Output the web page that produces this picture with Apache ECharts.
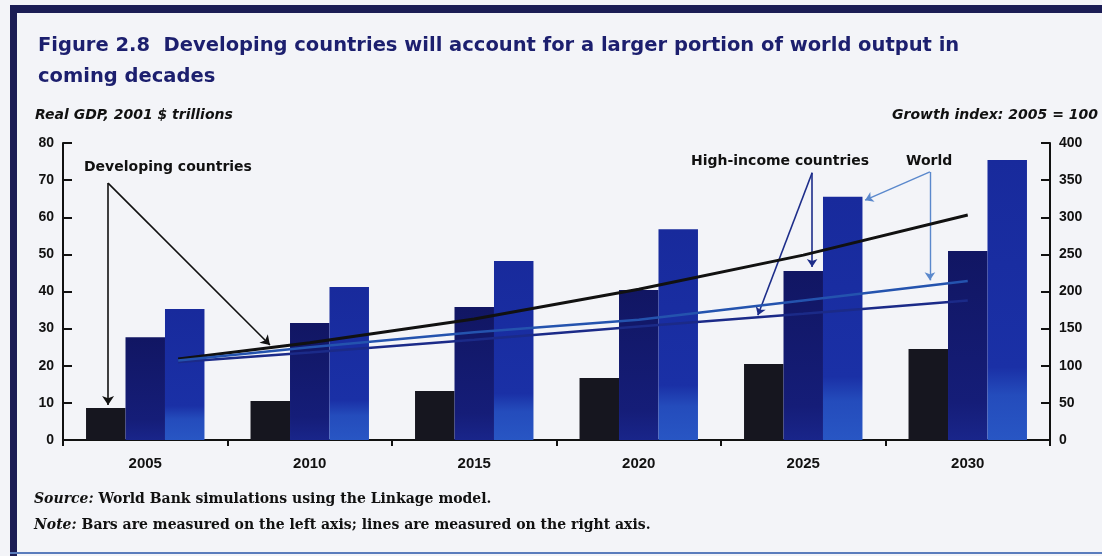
<!DOCTYPE html>
<html>
<head>
<meta charset="utf-8">
<title>Figure 2.8</title>
<script src="https://cdn.jsdelivr.net/npm/echarts@6/dist/echarts.min.js"></script>
<style>
  html, body { margin: 0; padding: 0; background: #f3f4f8; }
  #chart { width: 1102px; height: 556px; }
</style>
</head>
<body>
<div id="chart"></div>
<script>
// bars (left axis, 2001 $ trillions)
var years = ["2005", "2010", "2015", "2020", "2025", "2030"];
var developingGdp = [8.6, 10.5, 13.2, 16.7, 20.5, 24.5];
var highIncomeGdp = [27.7, 31.5, 35.8, 40.4, 45.5, 50.9];
var worldGdp = [35.3, 41.2, 48.2, 56.8, 65.5, 75.4];

// lines (right axis, growth index 2005 = 100)
var lineYears = [2006, 2010, 2015, 2020, 2025, 2030];
var developingIndex = [109, 131, 163, 203, 249, 303];
var highIncomeIndex = [105, 118, 135, 153, 170, 188];
var worldIndex = [107, 125, 145, 162, 188, 214];

var leftTicks = { min: 0, max: 80, interval: 10 };
var rightTicks = { min: 0, max: 400, interval: 50 };

var dom = document.getElementById("chart");
var myChart = echarts.init(dom, null, { renderer: "canvas" });

var wideBold = "bold 14px 'DejaVu Sans', 'Liberation Sans', sans-serif";
var captionFont = "italic bold 14px 'DejaVu Sans', 'Liberation Sans', sans-serif";
var noteFont = "bold 14px 'DejaVu Serif', 'Liberation Serif', serif";

function pairs(xs, ys) {
  return xs.map(function (x, i) { return [x, ys[i]]; });
}

function arrow(from, to) {
  return [{ coord: from }, { coord: to }];
}

var axisLabelStyle = {
  color: "#111",
  fontFamily: "'Liberation Sans', Arial, sans-serif",
  fontWeight: "bold",
  fontSize: 14,
  margin: 9
};

var option = {
  backgroundColor: "#f3f4f8",
  animation: false,
  title: {
    text: "Figure 2.8  Developing countries will account for a larger portion of world output in\ncoming decades",
    left: 33,
    top: 25,
    textStyle: {
      color: "#1c1f6e",
      fontFamily: "'DejaVu Sans', 'Liberation Sans', sans-serif",
      fontWeight: "bold",
      fontSize: 19.5,
      lineHeight: 31
    }
  },
  grid: { left: 63, right: 52, top: 143, bottom: 116 },
  xAxis: [
    {
      type: "category",
      data: years,
      axisLine: { lineStyle: { color: "#111", width: 2 } },
      axisTick: { show: true, alignWithLabel: false, length: 6, lineStyle: { color: "#111", width: 2 } },
      axisLabel: {
        color: "#111",
        fontFamily: "'Liberation Sans', Arial, sans-serif",
        fontWeight: "bold",
        fontSize: 15,
        margin: 16
      }
    },
    {
      type: "value",
      min: 2002.5,
      max: 2032.5,
      show: false
    }
  ],
  yAxis: [
    {
      type: "value",
      position: "left",
      min: leftTicks.min,
      max: leftTicks.max,
      interval: leftTicks.interval,
      splitLine: { show: false },
      axisLine: { show: true, lineStyle: { color: "#111", width: 2 } },
      axisTick: { show: true, inside: true, length: 9, lineStyle: { color: "#111", width: 2 } },
      axisLabel: axisLabelStyle
    },
    {
      type: "value",
      position: "right",
      min: rightTicks.min,
      max: rightTicks.max,
      interval: rightTicks.interval,
      splitLine: { show: false },
      axisLine: { show: true, lineStyle: { color: "#111", width: 2 } },
      axisTick: { show: true, inside: true, length: 9, lineStyle: { color: "#111", width: 2 } },
      axisLabel: axisLabelStyle
    }
  ],
  series: [
    {
      name: "Developing countries",
      type: "bar",
      data: developingGdp,
      barGap: "0%",
      barCategoryGap: "28%",
      itemStyle: { color: "#16161f" }
    },
    {
      name: "High-income countries",
      type: "bar",
      data: highIncomeGdp,
      itemStyle: {
        color: new echarts.graphic.LinearGradient(0, 0, 0, 1, [
          { offset: 0, color: "#111663" },
          { offset: 0.8, color: "#151d78" },
          { offset: 1, color: "#19258a" }
        ])
      }
    },
    {
      name: "World",
      type: "bar",
      data: worldGdp,
      itemStyle: {
        color: new echarts.graphic.LinearGradient(0, 0, 0, 1, [
          { offset: 0, color: "#182a9c" },
          { offset: 0.74, color: "#1a30a6" },
          { offset: 0.84, color: "#244cbc" },
          { offset: 1, color: "#2856c4" }
        ])
      }
    },
    {
      name: "Developing index",
      type: "line",
      xAxisIndex: 1,
      yAxisIndex: 1,
      data: pairs(lineYears, developingIndex),
      symbol: "none",
      lineStyle: { color: "#111", width: 3 },
      z: 5,
      markLine: {
        silent: true,
        symbol: ["none", "arrow"],
        symbolSize: 9,
        label: { show: false },
        lineStyle: { color: "#111", width: 1.6, type: "solid" },
        data: [
          arrow([2003.87, 346], [2003.87, 47]),
          arrow([2003.87, 346], [2008.79, 128])
        ]
      }
    },
    {
      name: "High-income index",
      type: "line",
      xAxisIndex: 1,
      yAxisIndex: 1,
      data: pairs(lineYears, highIncomeIndex),
      symbol: "none",
      lineStyle: { color: "#1b2a88", width: 2.5 },
      z: 5,
      markLine: {
        silent: true,
        symbol: ["none", "arrow"],
        symbolSize: 8,
        label: { show: false },
        lineStyle: { color: "#1d2d8a", width: 1.6, type: "solid" },
        data: [
          arrow([2025.27, 360], [2025.27, 233]),
          arrow([2025.27, 360], [2023.62, 168])
        ]
      }
    },
    {
      name: "World index",
      type: "line",
      xAxisIndex: 1,
      yAxisIndex: 1,
      data: pairs(lineYears, worldIndex),
      symbol: "none",
      lineStyle: { color: "#2453ae", width: 2.5 },
      z: 5,
      markLine: {
        silent: true,
        symbol: ["none", "arrow"],
        symbolSize: 8,
        label: { show: false },
        lineStyle: { color: "#5a88cc", width: 1.4, type: "solid" },
        data: [
          arrow([2028.85, 361], [2026.88, 323]),
          arrow([2028.85, 361], [2028.85, 215])
        ]
      }
    }
  ],
  graphic: [
    // frame
    { type: "rect", left: 10, top: 5, shape: { width: 1092, height: 8 }, style: { fill: "#1b1d55" }, silent: true },
    { type: "rect", left: 10, top: 5, shape: { width: 7, height: 551 }, style: { fill: "#1b1d55" }, silent: true },
    { type: "rect", left: 10, top: 552, shape: { width: 1092, height: 2 }, style: { fill: "#5a7cbc" }, silent: true },
    // axis captions
    {
      type: "text", left: 35, top: 108,
      style: { text: "Real GDP, 2001 $ trillions", font: captionFont, fill: "#111" }
    },
    {
      type: "text", right: 4, top: 108,
      style: { text: "Growth index: 2005 = 100", font: captionFont, fill: "#111" }
    },
    // annotations
    {
      type: "text", left: 84, top: 160,
      style: { text: "Developing countries", font: wideBold, fill: "#111" }
    },
    {
      type: "text", left: 691, top: 154,
      style: { text: "High-income countries", font: wideBold, fill: "#111" }
    },
    {
      type: "text", left: 906, top: 154,
      style: { text: "World", font: wideBold, fill: "#111" }
    },
    // notes
    {
      type: "text", left: 34, top: 492,
      style: {
        text: "{i|Source:} World Bank simulations using the Linkage model.",
        font: noteFont,
        fill: "#111",
        rich: { i: { fontStyle: "italic", fontWeight: "bold", fontSize: 14, fontFamily: "'DejaVu Serif', serif", fill: "#111" } }
      }
    },
    {
      type: "text", left: 34, top: 518,
      style: {
        text: "{i|Note:} Bars are measured on the left axis; lines are measured on the right axis.",
        font: noteFont,
        fill: "#111",
        rich: { i: { fontStyle: "italic", fontWeight: "bold", fontSize: 14, fontFamily: "'DejaVu Serif', serif", fill: "#111" } }
      }
    }
  ]
};

if (option && typeof option === "object") {
  myChart.setOption(option);
}

window.addEventListener("resize", myChart.resize);
</script>
</body>
</html>
